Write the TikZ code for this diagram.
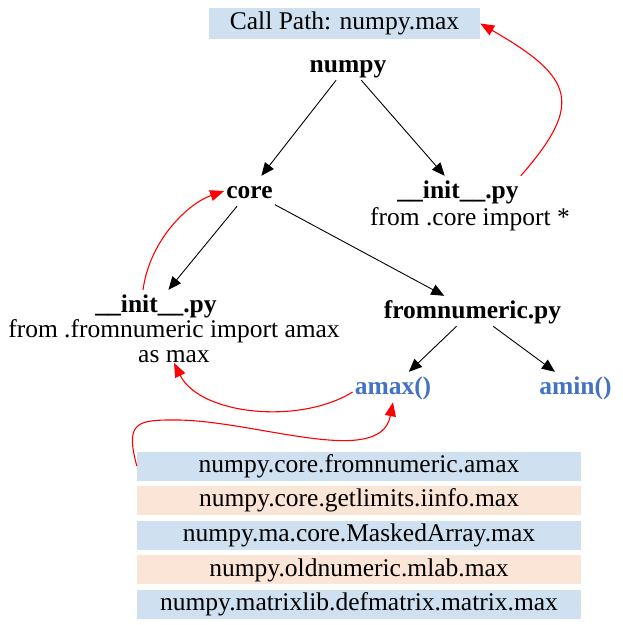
\documentclass[tikz,border=0pt]{standalone}
\usepackage{fontspec}
\setmainfont{Liberation Serif}
\usetikzlibrary{arrows.meta}
\usetikzlibrary{positioning}
\definecolor{boxblue}{RGB}{207,224,241}
\definecolor{boxpeach}{RGB}{251,229,214}
\definecolor{fnblue}{RGB}{68,114,196}

\begin{document}
\begin{tikzpicture}[x=1pt, y=-1pt,
    every node/.style={font=\fontsize{25.5}{25}\selectfont, inner sep=2pt},
    mod/.style={font=\fontsize{25.5}{25}\selectfont\bfseries, text height=20pt, text depth=6pt, anchor=base},
    note/.style={anchor=base},
    func/.style={mod, text=fnblue},
    entry/.style={minimum width=444pt, minimum height=29pt, inner sep=0pt},
    edge/.style={-{Triangle[length=13pt, width=11pt]}, line width=0.9pt},
    link/.style={-{Triangle[length=14pt, width=11pt]}, red, line width=1.1pt},
    node distance=5.25pt]
    \useasboundingbox (0,0) rectangle (623,625);
    \node (c) [fill=boxblue, minimum width=271pt, minimum height=31pt, inner sep=0pt] at (344.5,23.5) {Call Path: numpy.max};
    \node (1) [mod] at (348,72) {numpy};
    \node (2) [mod] at (249.5,198) {core};
    \node (3) [mod] at (458,198) {\_\_init\_\_.py};
    \node (3t) [note] at (470,225) {from .core import *};
    \node (4) [mod] at (156,312) {\_\_init\_\_.py};
    \node (4t) [align=center, anchor=south, inner sep=0pt] at (174,363) {from .fromnumeric import amax\\as max};
    \node (5) [mod] at (472.5,318) {fromnumeric.py};
    \node (6) [func] at (393,394) {amax()};
    \node (7) [func] at (575.5,394) {amin()};
    \node (l1) [entry, fill=boxblue] at (359,466) {numpy.core.fromnumeric.amax};
    \node (l2) [entry, fill=boxpeach, below=of l1] {numpy.core.getlimits.iinfo.max};
    \node (l3) [entry, fill=boxblue, below=of l2] {numpy.ma.core.MaskedArray.max};
    \node (l4) [entry, fill=boxpeach, below=of l3] {numpy.oldnumeric.mlab.max};
    \node (l5) [entry, fill=boxblue, below=of l4] {numpy.matrixlib.defmatrix.matrix.max};
    \coordinate (k) at (170,420);
    \draw [edge] (1) -- (2);
    \draw [edge] (1) -- (3);
    \draw [edge] (2) -- (4);
    \draw [edge] (2) -- (5);
    \draw [edge] (5) -- (6);
    \draw [edge] (5) -- (7);
    \draw [link] (3.north east) .. controls +(63,-72) and +(94,54) .. (c.east);
    \draw [link] ([xshift=-13pt]4.north) .. controls +(7,-51) and +(-35,12) .. (2.west);
    \draw [link] ([yshift=-5pt]6.west) .. controls +(-53,33) and +(26,52) .. (4t.south);
    \draw [link] (l1.west) .. controls +(-11,-41) and +(-35,0) .. (k) .. controls +(80,-2) and +(-13,68) .. (6.south);
\end{tikzpicture}
\end{document}
